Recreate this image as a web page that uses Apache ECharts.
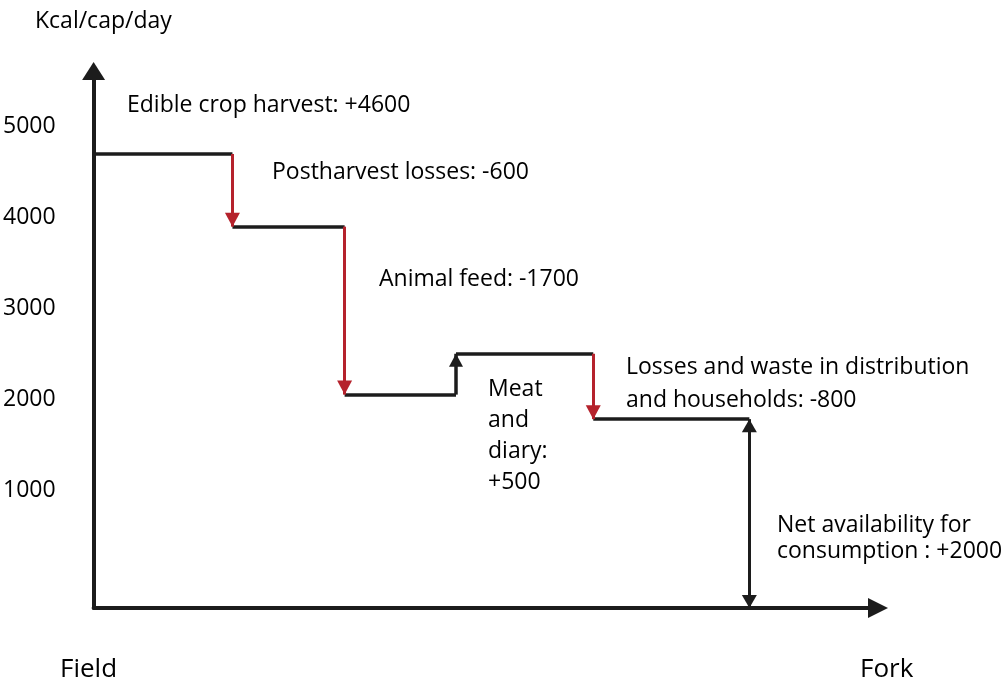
<!DOCTYPE html>
<html>
<head>
<meta charset="utf-8">
<script src="https://cdn.jsdelivr.net/npm/echarts@6/dist/echarts.min.js"></script>
<style>
  html, body { margin: 0; padding: 0; background: #fff; }
  #chart { width: 1006px; height: 686px; }
</style>
</head>
<body>
<div id="chart"></div>
<script>
// y tick labels shown on the axis
const yTicks = [1000, 2000, 3000, 4000, 5000];

// stage positions along Field -> Fork (0..100)
const stageX = [0, 17.7, 32, 46.2, 63.7, 83.6];
// level of each plateau, as drawn (kcal/cap/day)
const levels = [4700, 3900, 2050, 2500, 1780];
// direction of each change: true = loss (red), false = gain (black)
const isLoss = [true, true, false, true];

// annotation texts
const labels = [
    'Edible crop harvest: +4600',
    'Postharvest losses: -600',
    'Animal feed: -1700',
    'Meat\nand\ndiary:\n+500',
    'Losses and waste in distribution\nand households: -800',
    'Net availability for\nconsumption : +2000'
];

const FONT = '"Open Sans", Lato, sans-serif';
const RED = '#b5222c';
const INK = '#1c1c1c';

const chart = echarts.init(document.getElementById('chart'));

const yMin = -300;
const yMax = 5614;

// horizontal plateaus
const plateaus = levels.map((lv, i) => ({
    coords: [[stageX[i], lv], [stageX[i + 1], lv]]
}));

// vertical changes between plateaus, split by colour
const redArrows = [];
const blackArrows = [];
isLoss.forEach((loss, i) => {
    const seg = [{ coord: [stageX[i + 1], levels[i]] }, { coord: [stageX[i + 1], levels[i + 1]] }];
    (loss ? redArrows : blackArrows).push(seg);
});
// net availability: last plateau down to the axis (arrow both ends)
const netArrow = [[{ coord: [stageX[5], levels[4]] }, { coord: [stageX[5], yMin] }]];

function arrowSeries(data, color, width, ends, size) {
    return {
        type: 'line',
        data: [],
        markLine: {
            silent: true,
            animation: false,
            symbol: ends,
            symbolSize: size,
            symbolOffset: [[0, size[1] / 2], [0, size[1] / 2]],
            label: { show: false },
            lineStyle: { color: color, width: width, type: 'solid', opacity: 1 },
            itemStyle: { color: color },
            emphasis: { disabled: true },
            data: data
        },
        z: 4
    };
}

function txt(x, y, text, size, lh) {
    return {
        type: 'text', x: x, y: y,
        style: {
            text: text,
            font: size + 'px ' + FONT,
            fill: '#000',
            lineHeight: lh || size,
            textVerticalAlign: 'middle',
            verticalAlign: 'middle'
        }
    };
}

chart.setOption({
    animation: false,
    grid: { left: 93, right: 128, top: 71, bottom: 78 },
    xAxis: {
        type: 'value',
        min: 0,
        max: 100,
        splitLine: { show: false },
        axisTick: { show: false },
        axisLabel: { show: false },
        axisLine: {
            onZero: false,
            symbol: ['none', 'triangle'],
            symbolSize: [20, 20],
            lineStyle: { color: INK, width: 4 }
        }
    },
    yAxis: {
        type: 'value',
        min: yMin,
        max: yMax,
        splitLine: { show: false },
        axisTick: { show: false },
        axisLabel: {
            customValues: yTicks,
            formatter: v => String(v),
            margin: 38,
            color: '#000',
            fontFamily: FONT,
            fontSize: 23
        },
        axisLine: {
            show: true,
            onZero: false,
            symbol: ['none', 'triangle'],
            symbolSize: [23, 18],
            lineStyle: { color: INK, width: 4 }
        }
    },
    series: [
        {
            type: 'lines',
            coordinateSystem: 'cartesian2d',
            polyline: false,
            symbol: 'none',
            lineStyle: { color: INK, width: 3.5, opacity: 1 },
            data: plateaus,
            z: 3
        },
        arrowSeries(redArrows, RED, 3, ['none', 'triangle'], [15, 14]),
        arrowSeries(blackArrows, INK, 3.5, ['none', 'triangle'], [14, 13]),
        arrowSeries(netArrow, INK, 3, ['triangle', 'triangle'], [15, 13])
    ],
    graphic: [
        txt(35, 21, 'Kcal/cap/day', 23),
        txt(127, 105, labels[0], 23),
        txt(272, 172, labels[1], 23),
        txt(379, 279, labels[2], 23),
        txt(488, 436, labels[3], 23, 31),
        txt(626, 384, labels[4], 23, 33),
        txt(777, 538, labels[5], 23, 26),
        txt(60, 670, 'Field', 26),
        txt(860, 670, 'Fork', 26)
    ]
});
</script>
</body>
</html>
